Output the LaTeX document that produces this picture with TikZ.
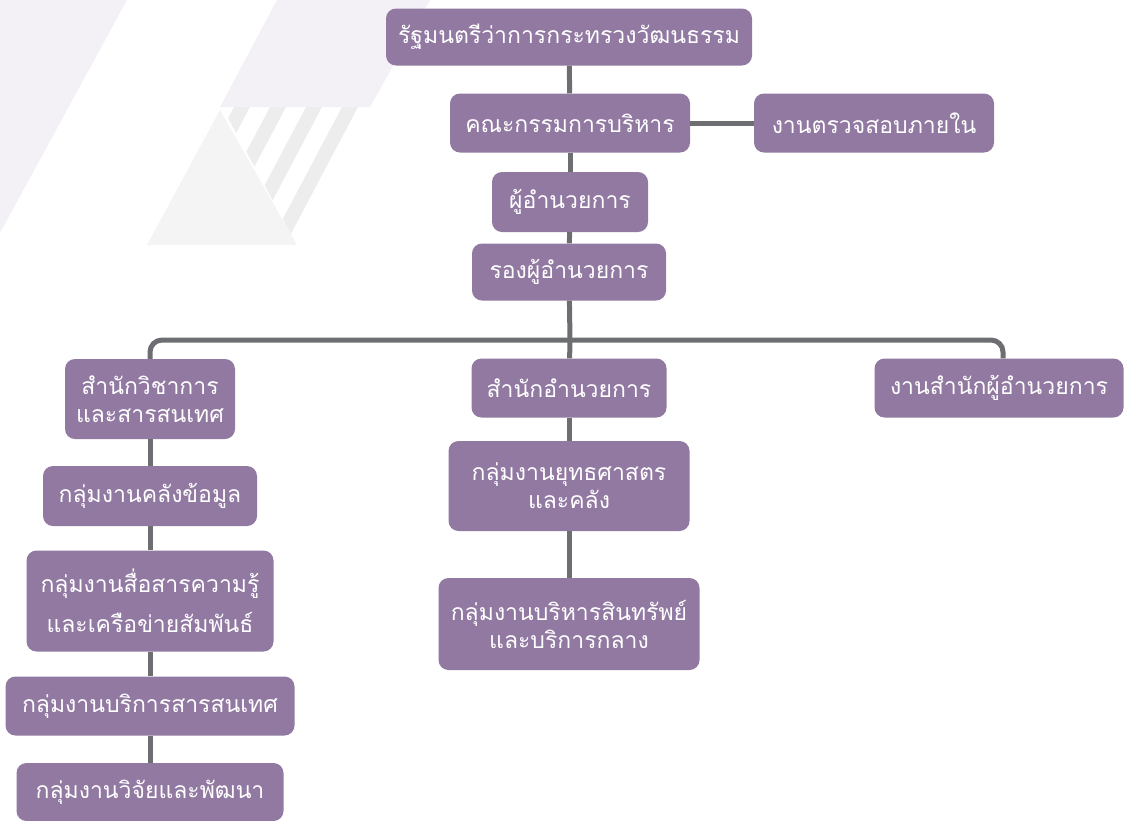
\documentclass[tikz,border=0pt]{standalone}
\usepackage{fontspec}
\newfontfamily\thaifont[Script=Thai]{Loma}
\definecolor{boxc}{HTML}{9179A2}
\definecolor{linec}{HTML}{6D6E71}
\definecolor{lav}{HTML}{F3F0F6}
\definecolor{lgray}{HTML}{F4F4F4}
\definecolor{sgray}{HTML}{EDEDED}
\tikzset{
  x=1pt, y=-1pt,
  orgbox/.style={fill=boxc, rounded corners=10pt, text=white, align=center, inner sep=0pt,
    font=\thaifont\fontsize{23}{28}\selectfont},
  conn/.style={draw=linec, line width=5pt},
}
\begin{document}
\begin{tikzpicture}
\useasboundingbox (0,0) rectangle (1124,820);
% background decoration
\fill[lav] (0,0) -- (127,0) -- (0,233) -- cycle;
\fill[lav] (277,0) -- (430,0) -- (370,107) -- (220,107) -- cycle;
\fill[lgray] (220,110) -- (147,245) -- (297,245) -- cycle;
\begin{scope}
  \clip (222,107) -- (370,107) -- (297,245) -- cycle;
  \foreach \i in {0,1,2,3} {
    \fill[sgray] ({234+36*\i},107) -- ({250+36*\i},107) -- ({250+36*\i-73},245) -- ({234+36*\i-73},245) -- cycle;
  }
\end{scope}
% nodes
\node[orgbox, minimum width=366pt, minimum height=57pt] (top) at (569,37) {รัฐมนตรีว่าการกระทรวงวัฒนธรรม};
\node[orgbox, minimum width=240pt, minimum height=59pt] (board) at (570,123) {คณะกรรมการบริหาร};
\node[orgbox, minimum width=240pt, minimum height=59pt] (audit) at (874,123) {งานตรวจสอบภายใน};
\node[orgbox, minimum width=156pt, minimum height=60pt] (dir) at (570,202) {ผู้อำนวยการ};
\node[orgbox, minimum width=194pt, minimum height=57pt] (dep) at (569,272) {รองผู้อำนวยการ};
\node[orgbox, minimum width=170pt, minimum height=80pt] (acad) at (150,399) {สำนักวิชาการ\\และสารสนเทศ};
\node[orgbox, minimum width=214pt, minimum height=60pt] (g1) at (150,496) {กลุ่มงานคลังข้อมูล};
\node[orgbox, minimum width=247pt, minimum height=101pt] (g2) at (150,601) {กลุ่มงานสื่อสารความรู้\\[12pt]และเครือข่ายสัมพันธ์};
\node[orgbox, minimum width=289pt, minimum height=59pt] (g3) at (150,706) {กลุ่มงานบริการสารสนเทศ};
\node[orgbox, minimum width=267pt, minimum height=58pt] (g4) at (150,792) {กลุ่มงานวิจัยและพัฒนา};
\node[orgbox, minimum width=195pt, minimum height=59pt] (office) at (569,388) {สำนักอำนวยการ};
\node[orgbox, minimum width=241pt, minimum height=90pt] (strat) at (569,486) {กลุ่มงานยุทธศาสตร\\และคลัง};
\node[orgbox, minimum width=261pt, minimum height=92pt] (asset) at (569,624) {กลุ่มงานบริหารสินทรัพย์\\และบริการกลาง};
\node[orgbox, minimum width=249pt, minimum height=59pt] (dirof) at (999,388) {งานสำนักผู้อำนวยการ};
% connectors
\coordinate (bar) at (570,340);
\draw[conn] (top) -- (board);
\draw[conn] (board) -- (audit);
\draw[conn] (board) -- (dir);
\draw[conn] (dir) -- (dep);
\draw[conn] (dep) -- (bar) -- (office);
\draw[conn, rounded corners=12pt] (acad.north) |- (bar) -| ([xshift=4pt]dirof.north);
\draw[conn] (acad) -- (g1);
\draw[conn] (g1) -- (g2);
\draw[conn] (g2) -- (g3);
\draw[conn] (g3) -- (g4);
\draw[conn] (office) -- (strat);
\draw[conn] (strat) -- (asset);
\end{tikzpicture}
\end{document}
